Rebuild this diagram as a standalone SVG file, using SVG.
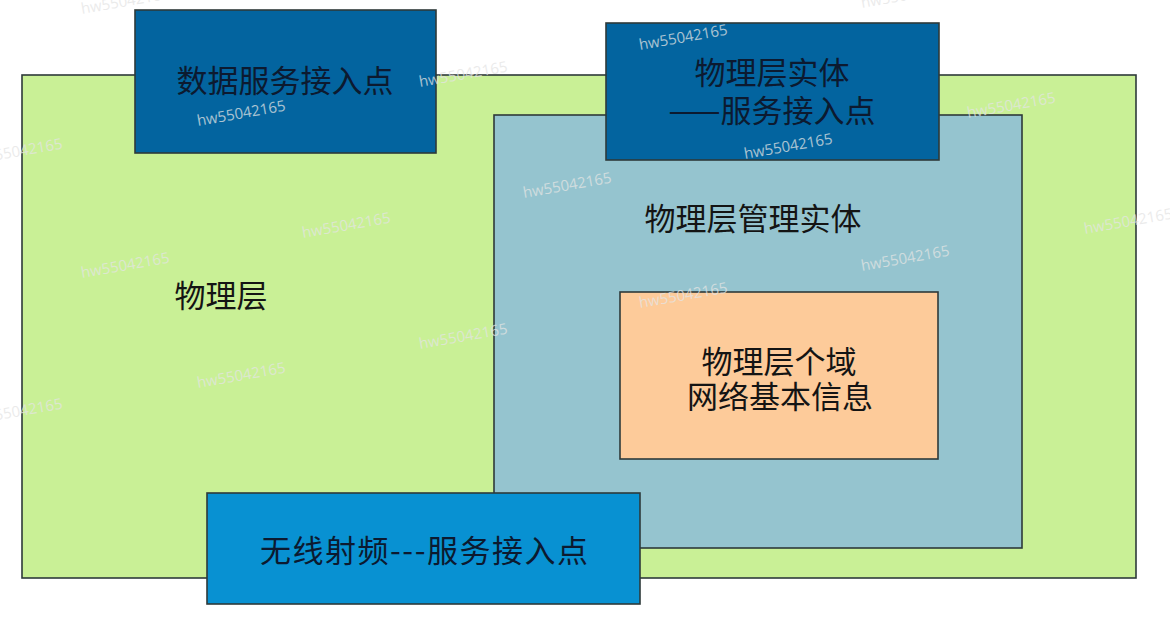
<svg xmlns="http://www.w3.org/2000/svg" width="1170" height="618" viewBox="0 0 1170 618">
<style>
.box{stroke:#2e3a3a;stroke-width:1.6}
.t{font-family:"Microsoft YaHei","Noto Sans CJK SC","Noto Sans",sans-serif;font-size:31px;fill:#141414;text-anchor:middle;dominant-baseline:central}
.tb{fill:#0c1a30}
.wm{font-family:"Open Sans","Noto Sans",sans-serif;font-size:15px;fill:#e4e4e4;fill-opacity:0.75}
</style>
<rect width="1170" height="618" fill="#ffffff"/>
<g id="physical-layer">
<rect class="box" x="22" y="75" width="1114" height="503" fill="#c9f096"/>
<text class="t" x="221" y="293">物理层</text>
</g>
<g id="phy-management-entity">
<rect class="box" x="494" y="115" width="528" height="433" fill="#95c4cf"/>
<text class="t" x="753" y="216">物理层管理实体</text>
</g>
<g id="data-sap">
<rect class="box" x="135" y="10" width="301" height="143" fill="#03649f"/>
<text class="t tb" x="285" y="78">数据服务接入点</text>
</g>
<g id="phy-entity-sap">
<rect class="box" x="606" y="23" width="333" height="137" fill="#03649f"/>
<text class="t tb" x="772" y="70">物理层实体</text>
<text class="t tb" x="772" y="108" font-size="32">——服务接入点</text>
</g>
<g id="pan-info">
<rect class="box" x="620" y="292" width="318" height="167" fill="#fdcb9a"/>
<text class="t" x="779" y="359">物理层个域</text>
<text class="t" x="780" y="394">网络基本信息</text>
</g>
<g id="rf-sap">
<rect class="box" x="207" y="493" width="433" height="111" fill="#0891d2"/>
<text class="t tb" x="424" y="548" textLength="328" lengthAdjust="spacing">无线射频---服务接入点</text>
</g>
<g id="connectors"></g>
<g id="watermarks">
<text class="wm" transform="translate(82,14) rotate(-10)">hw55042165</text>
<text class="wm" transform="translate(198,126) rotate(-10)">hw55042165</text>
<text class="wm" transform="translate(420,87) rotate(-10)">hw55042165</text>
<text class="wm" transform="translate(640,50) rotate(-10)">hw55042165</text>
<text class="wm" transform="translate(862,8) rotate(-10)">hw55042165</text>
<text class="wm" transform="translate(-25,164) rotate(-10)">hw55042165</text>
<text class="wm" transform="translate(745,159) rotate(-10)">hw55042165</text>
<text class="wm" transform="translate(968,118) rotate(-10)">hw55042165</text>
<text class="wm" transform="translate(524,198) rotate(-10)">hw55042165</text>
<text class="wm" transform="translate(303,238) rotate(-10)">hw55042165</text>
<text class="wm" transform="translate(82,278) rotate(-10)">hw55042165</text>
<text class="wm" transform="translate(1085,234) rotate(-10)">hw55042165</text>
<text class="wm" transform="translate(862,271) rotate(-10)">hw55042165</text>
<text class="wm" transform="translate(640,308) rotate(-10)">hw55042165</text>
<text class="wm" transform="translate(420,349) rotate(-10)">hw55042165</text>
<text class="wm" transform="translate(198,388) rotate(-10)">hw55042165</text>
<text class="wm" transform="translate(-25,424) rotate(-10)">hw55042165</text>
</g>
</svg>
